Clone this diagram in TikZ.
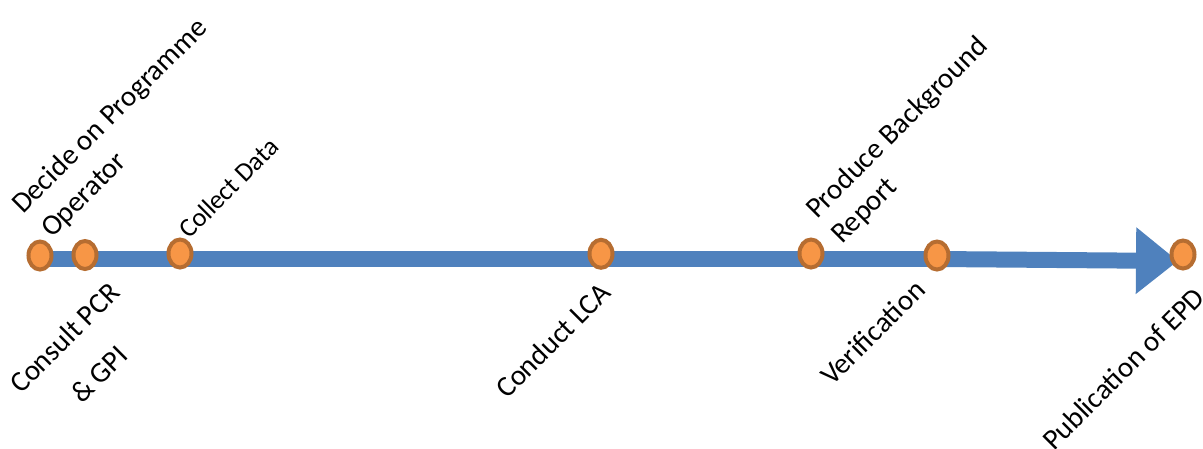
\documentclass[tikz,border=0pt]{standalone}
\usepackage{fontspec}
\setmainfont{Carlito}
\usetikzlibrary{arrows.meta,shapes.geometric}
\definecolor{bandblue}{HTML}{4F81BD}
\definecolor{dotfill}{HTML}{F79646}
\definecolor{dotedge}{HTML}{B66D31}
\tikzset{
  band/.style={draw=bandblue, line width=16pt},
  milestone/.style={ellipse, draw=dotedge, fill=dotfill, line width=4pt, minimum width=23pt, minimum height=28pt, inner sep=0pt},
  lbl/.style={anchor=base west, rotate=45, inner sep=0pt, font=\fontsize{29}{35}\selectfont},
  lblsmall/.style={lbl, font=\fontsize{26.5}{32}\selectfont}
}
\begin{document}
\begin{tikzpicture}[x=1pt, y=-1pt]
\useasboundingbox (0,0) rectangle (1203,448);
% band coordinates
\coordinate (b0) at (40,259);
\coordinate (b1) at (937,259);
\coordinate (tip) at (1178,261);
\draw[band] (b0) -- (b1);
\draw[band, -{Triangle[length=42pt, width=64pt]}] (b1) -- (tip);
% milestones
\node[milestone] (m1) at (40,255.5) {};
\node[milestone] (m2) at (85,255) {};
\node[milestone] (m3) at (180,253.5) {};
\node[milestone] (m4) at (601,253.8) {};
\node[milestone] (m5) at (811,253.5) {};
\node[milestone] (m6) at (937,255.5) {};
\node[milestone] (m7) at (1183,254.5) {};
% labels
\node[lbl] (t1a) at (23,215) {Decide on Programme};
\node[lbl] (t1b) at (52,239) {Operator};
\node[lbl] (t2a) at (21,395) {Consult PCR};
\node[lbl] (t2b) at (82,405) {\& GPI};
\node[lblsmall] (t3) at (189,240) {Collect Data};
\node[lbl] (t4) at (507,400) {Conduct LCA};
\node[lbl] (t5a) at (817,220) {Produce Background};
\node[lbl] (t5b) at (842,245) {Report};
\node[lbl] (t6) at (832,387) {Verification};
\node[lbl] (t7) at (1054,452) {Publication of EPD};
\end{tikzpicture}
\end{document}
